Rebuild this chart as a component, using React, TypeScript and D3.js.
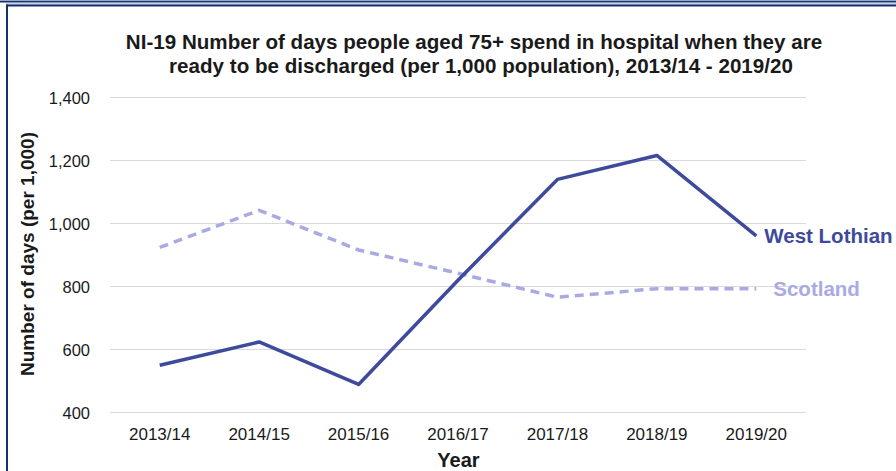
import React from "react";
import * as d3 from "d3";

const years = ["2013/14", "2014/15", "2015/16", "2016/17", "2017/18", "2018/19", "2019/20"];
const westLothian = [550, 624, 489, 820, 1140, 1216, 961];
const scotland = [924, 1042, 916, 842, 766, 793, 793];
const yTicks = [400, 600, 800, 1000, 1200, 1400];

const W = 896;
const H = 471;
const left = 110;
const right = 806;
const top = 97.5;
const bottom = 412.5;

const WL_COLOR = "#3E4A9C";
const SC_COLOR = "#A9AAE4";

export default function App() {
  const x = d3.scaleBand<string>().domain(years).range([left, right]);
  const y = d3.scaleLinear().domain([400, 1400]).range([bottom, top]);
  const cx = (d: string) => (x(d) as number) + x.bandwidth() / 2;
  const line = d3
    .line<number>()
    .x((_, i) => cx(years[i]))
    .y((v) => y(v));
  const fmt = d3.format(",");
  const font = "'Liberation Sans', Arial, sans-serif";
  const lastX = cx(years[years.length - 1]);

  return (
    <svg
      width={W}
      height={H}
      style={{ position: "absolute", left: 0, top: 0, fontFamily: font }}
    >
      <rect x={0} y={0} width={W} height={H} fill="#fff" />
      {/* frame */}
      <rect x={0} y={0} width={W} height={1} fill="#9AA8C6" />
      <rect x={0} y={1} width={W} height={1.5} fill="#14306F" />
      <rect x={6} y={3.5} width={W - 6} height={1} fill="#9AA8C6" />
      <rect x={6} y={4.5} width={W - 6} height={2} fill="#14306F" />
      <rect x={6} y={4.5} width={2} height={H} fill="#14306F" />

      {/* title */}
      <text x={474} y={49} textAnchor="middle" fontSize={20.6} fontWeight="bold" fill="#1a1a1a">
        NI-19 Number of days people aged 75+ spend in hospital when they are
      </text>
      <text x={481} y={73} textAnchor="middle" fontSize={20.6} fontWeight="bold" fill="#1a1a1a">
        ready to be discharged (per 1,000 population), 2013/14 - 2019/20
      </text>

      {/* gridlines */}
      {yTicks.map((t) => (
        <g key={t}>
          <line x1={left} x2={right} y1={y(t)} y2={y(t)} stroke="#D9D9D9" strokeWidth={1.2} />
          <text x={90} y={y(t) + 6} textAnchor="end" fontSize={16.5} fill="#1a1a1a">
            {fmt(t)}
          </text>
        </g>
      ))}

      {/* x labels */}
      {years.map((yr) => (
        <text key={yr} x={cx(yr)} y={439.5} textAnchor="middle" fontSize={17} fill="#1a1a1a">
          {yr}
        </text>
      ))}

      <text x={458.5} y={467} textAnchor="middle" fontSize={20} fontWeight="bold" fill="#1a1a1a">
        Year
      </text>
      <text
        transform={`translate(34, 254) rotate(-90)`}
        textAnchor="middle"
        fontSize={19}
        fontWeight="bold"
        fill="#1a1a1a"
      >
        Number of days (per 1,000)
      </text>

      {/* lines */}
      <path
        d={line(scotland) || ""}
        fill="none"
        stroke={SC_COLOR}
        strokeWidth={3.5}
        strokeDasharray="9,6"
      />
      <path d={line(westLothian) || ""} fill="none" stroke={WL_COLOR} strokeWidth={3.5} strokeLinejoin="round" />

      {/* series labels */}
      <text
        x={lastX + 8}
        y={y(westLothian[westLothian.length - 1]) + 7}
        fontSize={20.5}
        fontWeight="bold"
        fill={WL_COLOR}
      >
        West Lothian
      </text>
      <text
        x={lastX + 17}
        y={y(scotland[scotland.length - 1]) + 7}
        fontSize={20.5}
        fontWeight="bold"
        fill={SC_COLOR}
      >
        Scotland
      </text>
    </svg>
  );
}
